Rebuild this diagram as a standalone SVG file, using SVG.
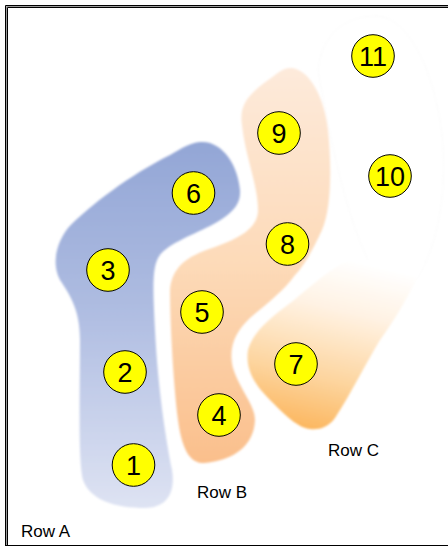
<svg xmlns="http://www.w3.org/2000/svg" width="448" height="547" viewBox="0 0 448 547">
<style>
.node circle{fill:#FFFF00;stroke:#000;stroke-width:1}
.node text{font-family:"Liberation Sans",Arial,sans-serif;font-size:27px;fill:#000;text-anchor:middle}
.lbl{font-family:"Liberation Sans",Arial,sans-serif;font-size:17px;fill:#000}
.soft{filter:url(#blur)}
</style>
<defs>
<filter id="blur" x="-10%" y="-10%" width="120%" height="120%"><feGaussianBlur stdDeviation="1.3"/></filter>
<linearGradient id="gA" gradientUnits="userSpaceOnUse" x1="0" y1="142" x2="0" y2="508">
<stop offset="0" stop-color="#93A6D6"/><stop offset="0.45" stop-color="#AEBCE1"/><stop offset="1" stop-color="#DEE3F3"/>
</linearGradient>
<linearGradient id="gB" gradientUnits="userSpaceOnUse" x1="0" y1="68" x2="0" y2="463">
<stop offset="0" stop-color="#FDEADB"/><stop offset="0.5" stop-color="#FDDAB8"/><stop offset="1" stop-color="#FABF8C"/>
</linearGradient>
<linearGradient id="gC" gradientUnits="userSpaceOnUse" x1="360" y1="262" x2="320" y2="430">
<stop offset="0" stop-color="#FFFFFF"/><stop offset="0.3" stop-color="#FFF2E3"/><stop offset="0.7" stop-color="#FDD59F"/><stop offset="1" stop-color="#FCB862"/>
</linearGradient>
</defs>
<rect width="448" height="547" fill="#fff"/>
<g id="frame" fill="none">
<path d="M5.5 546V5.5H448" stroke="#000" stroke-width="1"/>
<path d="M6.5 546V6.5H448" stroke="#999" stroke-width="1"/>
<path d="M7.5 546V7.5H448" stroke="#000" stroke-width="1"/>
<path d="M5 545.5H448" stroke="#000" stroke-width="1.2"/>
</g>
<g id="rowD" class="soft">
<path d="M378 16C405 18 430 60 440 120C450 180 440 260 405 292C370 300 340 200 318 70C322 30 350 15 378 16Z" fill="#fff" stroke="#fafafa" stroke-width="1"/>
</g>
<g id="rowA" class="soft">
<path d="M200 142C222 140 238 165 240 190C241 205 232 214 210 226C190 236 165 245 158 258C152 270 153 290 155 330C158 390 166 440 172 470C176 495 165 508 145 508C115 508 90 500 83 480C78 460 80 400 80 340C80 310 70 295 60 280C52 265 55 245 68 228C90 205 130 175 170 155C182 148 190 143 200 142Z" fill="url(#gA)"/>
</g>
<g id="rowB" class="soft">
<path d="M290 68C310 68 325 100 328 130C332 170 331 210 322 230C315 245 305 265 295 275C285 290 265 305 250 318C235 332 228 348 233 368C240 390 255 405 255 420C254 445 235 460 205 463C190 464 182 450 178 420C173 380 170 320 170 290C172 265 190 255 215 247C240 238 258 228 258 210C258 185 245 155 242 125C238 100 255 90 275 75C280 71 285 68 290 68Z" fill="url(#gB)"/>
</g>
<g id="rowC" class="soft">
<path d="M345 262C370 258 400 258 425 262C412 290 395 320 380 340C365 365 350 395 335 418C328 428 318 430 310 429C298 428 285 415 270 400C255 385 245 370 248 350C252 335 265 322 285 307C305 292 325 272 345 262Z" fill="url(#gC)"/>
</g>
<text class="lbl" x="21" y="537">Row A</text>
<text class="lbl" x="197" y="498">Row B</text>
<text class="lbl" x="328" y="456">Row C</text>
<g id="n1" class="node"><circle cx="133.5" cy="465" r="21.3"/><text x="133.5" y="474.5">1</text></g>
<g id="n2" class="node"><circle cx="125" cy="372" r="21.3"/><text x="125" y="381.5">2</text></g>
<g id="n3" class="node"><circle cx="108" cy="270" r="21.3"/><text x="108" y="279.5">3</text></g>
<g id="n4" class="node"><circle cx="219" cy="415" r="21.3"/><text x="219" y="424.5">4</text></g>
<g id="n5" class="node"><circle cx="202" cy="312" r="21.3"/><text x="202" y="321.5">5</text></g>
<g id="n6" class="node"><circle cx="193.5" cy="193" r="21.3"/><text x="193.5" y="202.5">6</text></g>
<g id="n7" class="node"><circle cx="296" cy="364" r="21.3"/><text x="296" y="373.5">7</text></g>
<g id="n8" class="node"><circle cx="287.5" cy="244" r="21.3"/><text x="287.5" y="253.5">8</text></g>
<g id="n9" class="node"><circle cx="279" cy="133" r="21.3"/><text x="279" y="142.5">9</text></g>
<g id="n10" class="node"><circle cx="390" cy="176" r="21.3"/><text x="390" y="185.5">10</text></g>
<g id="n11" class="node"><circle cx="373" cy="56" r="21.3"/><text x="373" y="65.5">11</text></g>
</svg>
